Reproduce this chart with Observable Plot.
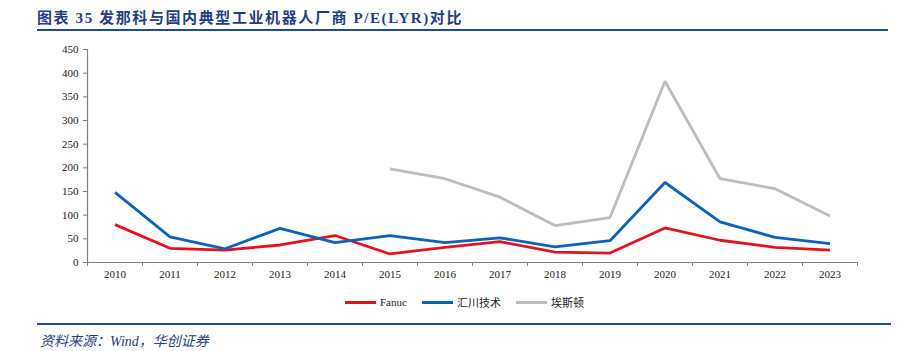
<!DOCTYPE html>
<html><head><meta charset="utf-8">
<script src="https://cdn.jsdelivr.net/npm/d3@7"></script>
<script src="https://cdn.jsdelivr.net/npm/@observablehq/plot@0.6"></script>
<style>
body{margin:0;background:#fff;}
#wrap{position:relative;width:906px;height:351px;overflow:hidden;font-family:"Liberation Serif","Noto Sans CJK SC",serif;}
#title{position:absolute;left:37px;top:9px;width:851px;height:20px;border-bottom:2px solid #1F4E8C;font-size:15px;font-weight:bold;color:#1F3F7F;letter-spacing:1.6px;line-height:19px;white-space:nowrap;font-family:"Liberation Serif","Noto Sans CJK SC",serif;}
#chart{position:absolute;left:0;top:40px}
#legend{position:absolute;top:294px;left:345px;display:flex;align-items:center;font-size:11px;color:#222;white-space:nowrap}
.item{display:flex;align-items:center;margin-right:15px}
.sw{width:31px;height:3px;margin-right:4px}
#foot{position:absolute;left:37px;top:323px;width:851px;border-top:2px solid #1F4E8C;font-style:italic;font-size:14px;color:#1F3F7F;padding-top:5px;padding-left:3px;white-space:nowrap}
svg text{fill:#222}
</style>
</head><body>
<div id="wrap">
  <div id="title"></div>
  <div id="chart"></div>
  <div id="legend"></div>
  <div id="foot"></div>
</div>
<script>
const titleText = "图表 35 发那科与国内典型工业机器人厂商 P/E(LYR)对比";
const sourceText = "资料来源：Wind，华创证券";
const years = [2010,2011,2012,2013,2014,2015,2016,2017,2018,2019,2020,2021,2022,2023];
const seriesNames = ["Fanuc","汇川技术","埃斯顿"];
const fanuc    = [80,30,26,37,57,18,32,44,22,20,73,47,32,26];
const inovance = [148,54,29,72,42,57,42,52,33,46,169,86,53,40];
const estun    = [null,null,null,null,null,198,177,138,78,95,383,177,156,98];
const yTicks = [0,50,100,150,200,250,300,350,400,450];
const colors = ["#E3121C","#0B62BA","#BDBDBD"];

document.getElementById("title").textContent = titleText;
document.getElementById("foot").textContent = sourceText;

const valuesBySeries = [fanuc, inovance, estun];
const data = [];
seriesNames.forEach((name, si) => {
  years.forEach((yr, i) => {
    const v = valuesBySeries[si][i];
    if (v != null) data.push({series: name, year: yr, value: v});
  });
});

const xDomain = [years[0] - 0.5, years[years.length - 1] + 0.5];
const boundaries = d3.range(years.length + 1).map(i => xDomain[0] + i);

const chart = Plot.plot({
  width: 906, height: 250,
  marginLeft: 87, marginRight: 49, marginTop: 9, marginBottom: 28,
  style: {fontFamily: "'Liberation Serif', serif", fontSize: "11px", background: "transparent", color: "#222"},
  x: {domain: xDomain},
  y: {domain: [yTicks[0], yTicks[yTicks.length - 1]]},
  color: {domain: seriesNames, range: colors},
  marks: [
    Plot.axisY({ticks: yTicks, tickSize: 4, tickPadding: 5, label: null, stroke: "#808080", tickFormat: d => String(d)}),
    Plot.axisX({ticks: boundaries, tickSize: 4, tickFormat: () => "", label: null, stroke: "#808080"}),
    Plot.axisX({ticks: years, tickSize: 0, tickPadding: 8, tickFormat: d => String(d), label: null}),
    Plot.ruleX([xDomain[0]], {stroke: "#808080", strokeWidth: 1.2}),
    Plot.ruleY([yTicks[0]], {stroke: "#808080", strokeWidth: 1.2}),
    Plot.line(data, {x: "year", y: "value", z: "series", stroke: "series", strokeWidth: 2.8, strokeLinejoin: "miter", strokeLinecap: "butt"})
  ]
});
document.getElementById("chart").appendChild(chart);

const legend = document.getElementById("legend");
seriesNames.forEach((name, i) => {
  const item = document.createElement("div");
  item.className = "item";
  const sw = document.createElement("div");
  sw.className = "sw";
  sw.style.background = colors[i];
  const lab = document.createElement("span");
  lab.textContent = name;
  item.appendChild(sw); item.appendChild(lab);
  legend.appendChild(item);
});
</script>
</body></html>
